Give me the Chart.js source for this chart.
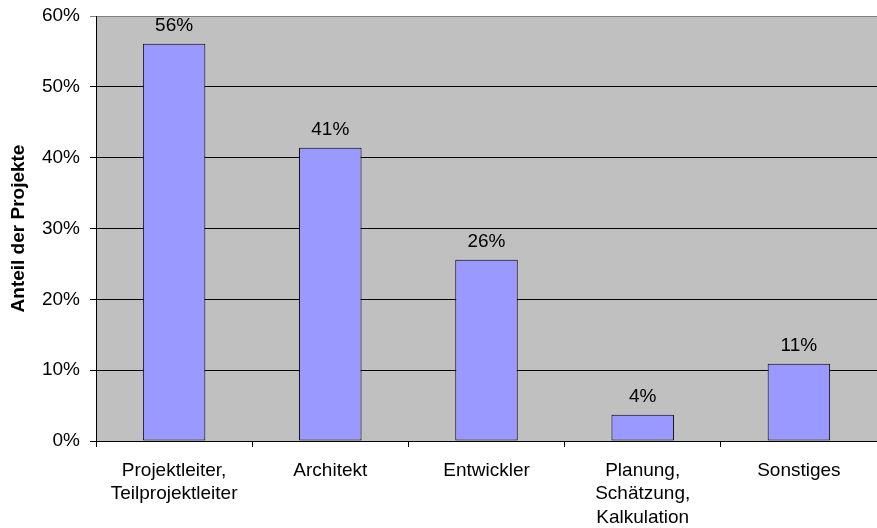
<!DOCTYPE html>
<html>
<head>
<meta charset="utf-8">
<script src="https://cdn.jsdelivr.net/npm/chart.js@4"></script>
<style>
    body { margin: 0; background: #ffffff; }
    #wrap { width: 877px; height: 528px; position: relative; }
</style>
</head>
<body>
<div id="wrap"><canvas id="rolesChart"></canvas></div>
<script>
// Categories (multi-line labels) and share of projects in percent
const categories = [
    ['Projektleiter,', 'Teilprojektleiter'],
    ['Architekt'],
    ['Entwickler'],
    ['Planung,', 'Schätzung,', 'Kalkulation'],
    ['Sonstiges']
];
const shares = [56.1, 41.4, 25.6, 3.7, 10.9];
const yTicks = [0, 10, 20, 30, 40, 50, 60];

const FONT = 'Arial, "Liberation Sans", sans-serif';

// Grey plot area background
const plotBackground = {
    id: 'plotBackground',
    beforeDraw(chart) {
        const { ctx, chartArea } = chart;
        ctx.save();
        ctx.fillStyle = '#c0c0c0';
        ctx.fillRect(chartArea.left, chartArea.top, chartArea.right - chartArea.left, chartArea.bottom - chartArea.top);
        ctx.restore();
    }
};

// Percent labels above each bar
const barLabels = {
    id: 'barLabels',
    afterDatasetsDraw(chart) {
        const { ctx } = chart;
        const meta = chart.getDatasetMeta(0);
        ctx.save();
        ctx.font = '19px ' + FONT;
        ctx.fillStyle = '#000';
        ctx.textAlign = 'center';
        ctx.textBaseline = 'middle';
        meta.data.forEach((bar, i) => {
            ctx.fillText(Math.round(shares[i]) + '%', bar.x, bar.y - 18);
        });
        ctx.restore();
    }
};

new Chart(document.getElementById('rolesChart'), {
    type: 'bar',
    data: {
        labels: categories,
        datasets: [{
            data: shares,
            backgroundColor: '#9999ff',
            borderColor: '#000000',
            borderWidth: 1,
            borderSkipped: false,
            categoryPercentage: 1.0,
            barPercentage: 0.40
        }]
    },
    options: {
        responsive: true,
        maintainAspectRatio: false,
        animation: false,
        layout: { padding: { top: 16, right: 0, left: 0, bottom: 0 } },
        plugins: {
            legend: { display: false },
            tooltip: { enabled: false }
        },
        scales: {
            x: {
                grid: {
                    drawOnChartArea: false,
                    drawTicks: true,
                    tickLength: 6,
                    color: '#000'
                },
                border: { color: '#000', width: 1 },
                ticks: {
                    color: '#000',
                    font: { family: FONT, size: 19, lineHeight: 1.23 },
                    maxRotation: 0,
                    autoSkip: false,
                    padding: 12
                },
                afterFit(scale) { scale.height = 87; scale.paddingTop = 0; scale.paddingBottom = 0; }
            },
            y: {
                min: 0,
                max: 60,
                afterBuildTicks(scale) {
                    scale.ticks = yTicks.map(v => ({ value: v }));
                },
                grid: {
                    color: ctx => (ctx.tick && ctx.tick.value === 60) ? '#808080' : '#000',
                    tickLength: 6,
                    drawTicks: true
                },
                border: { color: '#000', width: 1 },
                ticks: {
                    color: '#000',
                    font: { family: FONT, size: 19 },
                    padding: 10,
                    callback: v => v + '%'
                },
                title: {
                    display: true,
                    text: 'Anteil der Projekte',
                    color: '#000',
                    font: { family: FONT, size: 19, weight: 'bold' },
                    padding: { top: 7, bottom: 0 }
                },
                afterFit(scale) { scale.width = 96; scale.paddingTop = 0; scale.paddingBottom = 0; }
            }
        }
    },
    plugins: [plotBackground, barLabels]
});
</script>
</body>
</html>
